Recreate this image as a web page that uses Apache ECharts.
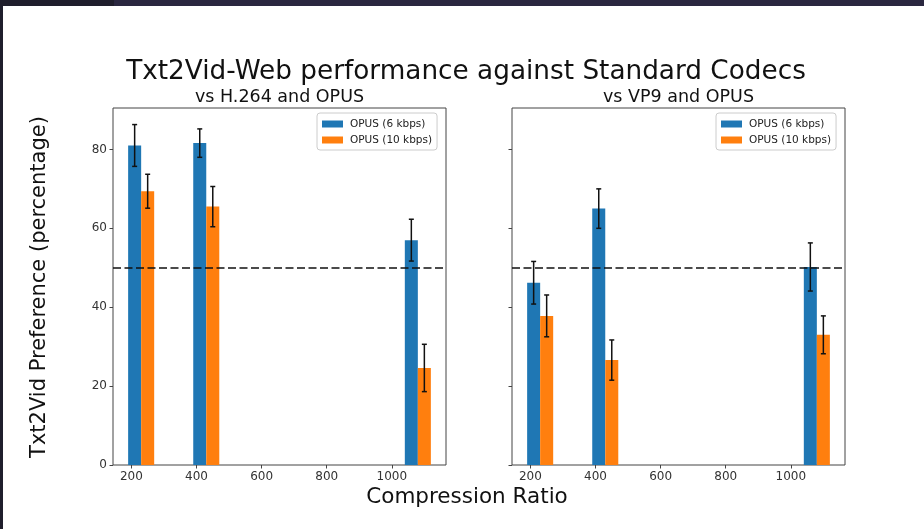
<!DOCTYPE html>
<html>
<head>
<meta charset="utf-8">
<script src="https://cdn.jsdelivr.net/npm/echarts@6/dist/echarts.min.js"></script>
<style>
html,body{margin:0;padding:0;background:#fff;}
#c{width:924px;height:529px;}
</style>
</head>
<body>
<div id="c"></div>
<script>
// ---- data ----
const seriesNames = ['OPUS (6 kbps)', 'OPUS (10 kbps)'];
const blueX = [210, 410, 1060];
const orangeX = [250, 450, 1100];
const h264Blue = [81.0, 81.6, 57.0];
const h264BlueErr = [5.3, 3.6, 5.3];
const h264Orange = [69.4, 65.5, 24.6];
const h264OrangeErr = [4.3, 5.1, 6.0];
const vp9Blue = [46.2, 65.0, 50.2];
const vp9BlueErr = [5.4, 5.0, 6.1];
const vp9Orange = [37.8, 26.6, 33.0];
const vp9OrangeErr = [5.3, 5.1, 4.8];
const xTicks = [200, 400, 600, 800, 1000];
const yTicks = [0, 20, 40, 60, 80];
const refLine = 50;
const subTitles = ['vs H.264 and OPUS', 'vs VP9 and OPUS'];

// ---- style ----
const BAR_W = 40;
const C_BLUE = '#1f77b4', C_ORANGE = '#ff7f0e';
const FONT = '"DejaVu Sans", sans-serif';
const AX = '#444';

function rows(xs, ys, es) { return xs.map((x, i) => [x, ys[i], es[i]]); }

function barSeries(name, color, idx, xs, ys, es) {
  return {
    type: 'custom', name: name, xAxisIndex: idx, yAxisIndex: idx,
    itemStyle: { color: color },
    data: rows(xs, ys, es),
    renderItem: function (params, api) {
      const x = api.value(0), y = api.value(1);
      const p1 = api.coord([x - BAR_W / 2, y]);
      const p2 = api.coord([x + BAR_W / 2, 0]);
      return { type: 'rect', shape: { x: p1[0], y: p1[1], width: p2[0] - p1[0], height: p2[1] - p1[1] }, style: { fill: color } };
    },
    z: 2
  };
}
function errSeries(idx, xs, ys, es) {
  return {
    type: 'custom', xAxisIndex: idx, yAxisIndex: idx,
    data: rows(xs, ys, es),
    renderItem: function (params, api) {
      const x = api.value(0), y = api.value(1), e = api.value(2);
      const top = api.coord([x, y + e]);
      const bot = api.coord([x, y - e]);
      const st = { stroke: '#111', lineWidth: 1.5 };
      const cw = 2.5;
      return { type: 'group', children: [
        { type: 'line', shape: { x1: top[0], y1: top[1], x2: bot[0], y2: bot[1] }, style: st },
        { type: 'line', shape: { x1: top[0] - cw, y1: top[1], x2: top[0] + cw, y2: top[1] }, style: st },
        { type: 'line', shape: { x1: bot[0] - cw, y1: bot[1], x2: bot[0] + cw, y2: bot[1] }, style: st }
      ]};
    },
    z: 3
  };
}
function refSeries(idx) {
  return {
    type: 'line', xAxisIndex: idx, yAxisIndex: idx, data: [], silent: true,
    markLine: {
      symbol: 'none', silent: true, animation: false,
      label: { show: false },
      lineStyle: { color: '#111', width: 1.5, type: [8, 3.5] },
      data: [{ yAxis: refLine }]
    },
    z: 4
  };
}
function xAxis(idx) {
  return {
    type: 'value', gridIndex: idx, min: 143.5, max: 1166.5,
    axisLine: { show: false },
    splitLine: { show: false },
    axisTick: { show: true, length: 3.5, customValues: xTicks, lineStyle: { color: AX, width: 1 } },
    axisLabel: { customValues: xTicks, formatter: v => String(v), color: '#333', fontSize: 12, fontFamily: FONT, margin: 6 }
  };
}
function yAxis(idx, showLabels) {
  return {
    type: 'value', gridIndex: idx, min: 0, max: 90.5,
    axisLine: { show: false },
    splitLine: { show: false },
    axisTick: { show: true, length: 3.5, customValues: yTicks, lineStyle: { color: AX, width: 1 } },
    axisLabel: { show: showLabels, customValues: yTicks, formatter: v => String(v), color: '#333', fontSize: 12, fontFamily: FONT, margin: 6 }
  };
}
function legend(left) {
  return {
    orient: 'vertical', left: left, top: 113,
    data: seriesNames.map(n => ({ name: n, icon: 'rect' })),
    itemWidth: 21, itemHeight: 7, itemGap: 4,
    padding: [5, 5, 4, 5],
    backgroundColor: 'rgba(255,255,255,0.8)',
    borderColor: '#cccccc', borderWidth: 1, borderRadius: 3,
    textStyle: { fontSize: 10.5, fontFamily: FONT, color: '#222', lineHeight: 12, padding: [0, 0, 0, 2] },
    selectedMode: false
  };
}

const chart = echarts.init(document.getElementById('c'), null, { renderer: 'canvas' });
chart.setOption({
  animation: false,
  backgroundColor: '#ffffff',
  grid: [
    { left: 113, top: 108, width: 333, height: 357, show: true, borderColor: AX, borderWidth: 1, backgroundColor: 'transparent' },
    { left: 512, top: 108, width: 333, height: 357, show: true, borderColor: AX, borderWidth: 1, backgroundColor: 'transparent' }
  ],
  xAxis: [xAxis(0), xAxis(1)],
  yAxis: [yAxis(0, true), yAxis(1, false)],
  legend: [legend(317), legend(716)],
  series: [
    barSeries(seriesNames[0], C_BLUE, 0, blueX, h264Blue, h264BlueErr),
    barSeries(seriesNames[1], C_ORANGE, 0, orangeX, h264Orange, h264OrangeErr),
    errSeries(0, blueX, h264Blue, h264BlueErr),
    errSeries(0, orangeX, h264Orange, h264OrangeErr),
    refSeries(0),
    barSeries(seriesNames[0], C_BLUE, 1, blueX, vp9Blue, vp9BlueErr),
    barSeries(seriesNames[1], C_ORANGE, 1, orangeX, vp9Orange, vp9OrangeErr),
    errSeries(1, blueX, vp9Blue, vp9BlueErr),
    errSeries(1, orangeX, vp9Orange, vp9OrangeErr),
    refSeries(1)
  ],
  graphic: [
    { type: 'rect', shape: { x: 0, y: 0, width: 114, height: 6 }, style: { fill: '#1f1e2c' }, z: 10 },
    { type: 'rect', shape: { x: 114, y: 0, width: 810, height: 6 }, style: { fill: '#2a2740' }, z: 10 },
    { type: 'rect', shape: { x: 0, y: 0, width: 3, height: 529 }, style: { fill: '#1f1e2c' }, z: 10 },
    { type: 'text', x: 466, y: 72, style: { text: 'Txt2Vid-Web performance against Standard Codecs', font: '26.3px ' + FONT, fill: '#111', align: 'center', verticalAlign: 'middle' } },
    { type: 'text', x: 279.5, y: 97, style: { text: subTitles[0], font: '17.5px ' + FONT, fill: '#111', align: 'center', verticalAlign: 'middle' } },
    { type: 'text', x: 678.5, y: 97, style: { text: subTitles[1], font: '17.5px ' + FONT, fill: '#111', align: 'center', verticalAlign: 'middle' } },
    { type: 'text', x: 467, y: 497, style: { text: 'Compression Ratio', font: '21.5px ' + FONT, fill: '#111', align: 'center', verticalAlign: 'middle' } },
    { type: 'text', x: 40, y: 287, rotation: Math.PI / 2, style: { text: 'Txt2Vid Preference (percentage)', font: '21px ' + FONT, fill: '#111', align: 'center', verticalAlign: 'middle' } }
  ]
});
</script>
</body>
</html>
